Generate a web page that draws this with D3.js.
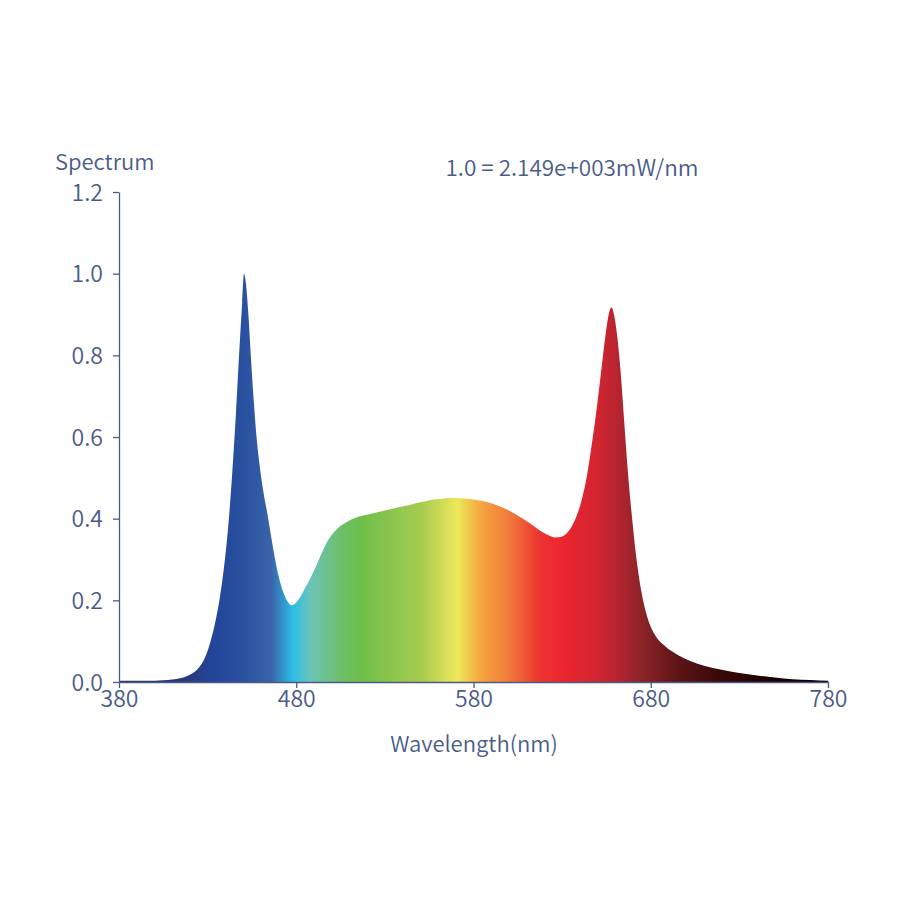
<!DOCTYPE html>
<html>
<head>
<meta charset="utf-8">
<script src="https://cdn.jsdelivr.net/npm/d3@7"></script>
<style>
  body { margin: 0; background: #fff; }
  svg text { font-family: "Noto Sans CJK SC", "Noto Sans", sans-serif; font-weight: 350; fill: #4b5b88; }
</style>
</head>
<body>
<div id="chart"></div>
<script>
// wavelength (nm) and relative spectrum values
const wavelengths = [380, 390, 400, 405, 410, 415, 420, 425, 428, 431, 434, 437, 440, 442, 444, 446, 448, 449.5, 450.5, 451.5, 453, 454.5, 456, 457.5, 459.5, 461.5, 464, 466, 468, 470, 472.5, 475, 477.5, 480, 482.5, 485, 488, 491, 494, 497, 500, 503, 507, 511, 516, 521, 527, 533, 539, 545, 550, 556, 562, 567, 572, 578, 584, 590, 595, 600, 606, 612, 617, 622, 626, 629, 632, 635, 638, 641, 644, 647, 649.5, 652, 654.5, 656.5, 657.8, 659, 661, 663, 665, 667, 669.5, 672, 675, 678, 682, 688, 695, 702, 710, 720, 730, 740, 750, 760, 770, 780];
const spectrum    = [0.003, 0.003, 0.003, 0.004, 0.006, 0.010, 0.018, 0.035, 0.055, 0.090, 0.140, 0.210, 0.310, 0.400, 0.520, 0.660, 0.820, 0.930, 1.000, 0.980, 0.900, 0.790, 0.690, 0.605, 0.525, 0.465, 0.405, 0.352, 0.302, 0.260, 0.222, 0.198, 0.188, 0.195, 0.210, 0.230, 0.255, 0.282, 0.312, 0.340, 0.360, 0.375, 0.388, 0.398, 0.406, 0.411, 0.417, 0.423, 0.429, 0.435, 0.440, 0.446, 0.449, 0.451, 0.450, 0.448, 0.444, 0.438, 0.430, 0.420, 0.405, 0.388, 0.372, 0.360, 0.354, 0.355, 0.362, 0.378, 0.405, 0.445, 0.505, 0.590, 0.670, 0.760, 0.850, 0.905, 0.918, 0.905, 0.850, 0.760, 0.640, 0.520, 0.400, 0.300, 0.215, 0.160, 0.118, 0.088, 0.067, 0.052, 0.040, 0.030, 0.022, 0.016, 0.011, 0.007, 0.005, 0.003];

// colour of the fill along the wavelength axis
const stopNm     = [380, 420, 432, 452, 466, 478, 488, 505, 516, 550, 571, 584, 600, 617, 630, 651, 663, 674, 697, 719, 753, 780];
const stopColors = ['#2a2c66', '#2a3a7e', '#244499', '#2a52a0', '#3a64aa', '#2bbde8', '#6cc4b8', '#6dbf6a', '#6dbf4a', '#a6cb50', '#ede85a', '#f5a640', '#f07a3a', '#ec3530', '#ed2530', '#d02530', '#b02430', '#8e2428', '#5a1416', '#3a0808', '#180000', '#000000'];

const xTicks = [380, 480, 580, 680, 780];
const yTicks = [0, 0.2, 0.4, 0.6, 0.8, 1.0, 1.2];

const width = 900, height = 900;
const margin = {top: 192, right: 72, bottom: 218, left: 119};

const svg = d3.select('#chart')
    .append('svg')
    .attr('width', width)
    .attr('height', height);

let x = d3.scaleLinear().domain([380, 780]).range([margin.left, width - margin.right]);
let y = d3.scaleLinear().domain([0, 1.2]).range([height - margin.bottom, margin.top]);

//Gradiente
const grad = svg.append('defs')
    .append('linearGradient')
    .attr('id', 'spec')
    .attr('gradientUnits', 'userSpaceOnUse')
    .attr('x1', x(380)).attr('x2', x(780))
    .attr('y1', 0).attr('y2', 0);

grad.selectAll('stop')
    .data(stopNm)
    .enter()
    .append('stop')
    .attr('offset', d => (d - 380) / 400)
    .attr('stop-color', (d, i) => stopColors[i]);

const data = wavelengths.map((w, i) => ({w: w, v: spectrum[i]}));

let area = d3.area()
    .x(d => x(d.w))
    .y0(y(0))
    .y1(d => y(d.v))
    .curve(d3.curveMonotoneX);

svg.append('path')
    .datum(data)
    .attr('fill', 'url(#spec)')
    .attr('d', area);

//Ejes
const axisColor = '#4a5a84';

let xAxis = svg.append('g')
    .attr('transform', 'translate(0,' + y(0) + ')')
    .call(d3.axisBottom(x).tickValues(xTicks).tickSize(6).tickSizeOuter(0).tickPadding(3));

let yAxis = svg.append('g')
    .attr('transform', 'translate(' + x(380) + ',0)')
    .call(d3.axisLeft(y).tickValues(yTicks).tickFormat(d3.format('.1f')).tickSize(6).tickSizeOuter(0).tickPadding(10));

[xAxis, yAxis].forEach(function(g) {
    g.selectAll('path, line').attr('stroke', axisColor).attr('stroke-width', 1.3);
    g.selectAll('text')
        .attr('fill', '#4b5b88')
        .style('font-size', '23px')
        .style('font-weight', 350)
        .style('font-family', '"Noto Sans CJK SC", "Noto Sans", sans-serif');
});
yAxis.selectAll('text').attr('dy', '0.36em');

//Textos
svg.append('text')
    .attr('x', 55)
    .attr('y', 170)
    .style('font-size', '22px')
    .text('Spectrum');

svg.append('text')
    .attr('x', 572)
    .attr('y', 176)
    .attr('text-anchor', 'middle')
    .style('font-size', '22.5px')
    .text('1.0 = 2.149e+003mW/nm');

svg.append('text')
    .attr('x', 474)
    .attr('y', 752)
    .attr('text-anchor', 'middle')
    .style('font-size', '22px')
    .text('Wavelength(nm)');
</script>
</body>
</html>
